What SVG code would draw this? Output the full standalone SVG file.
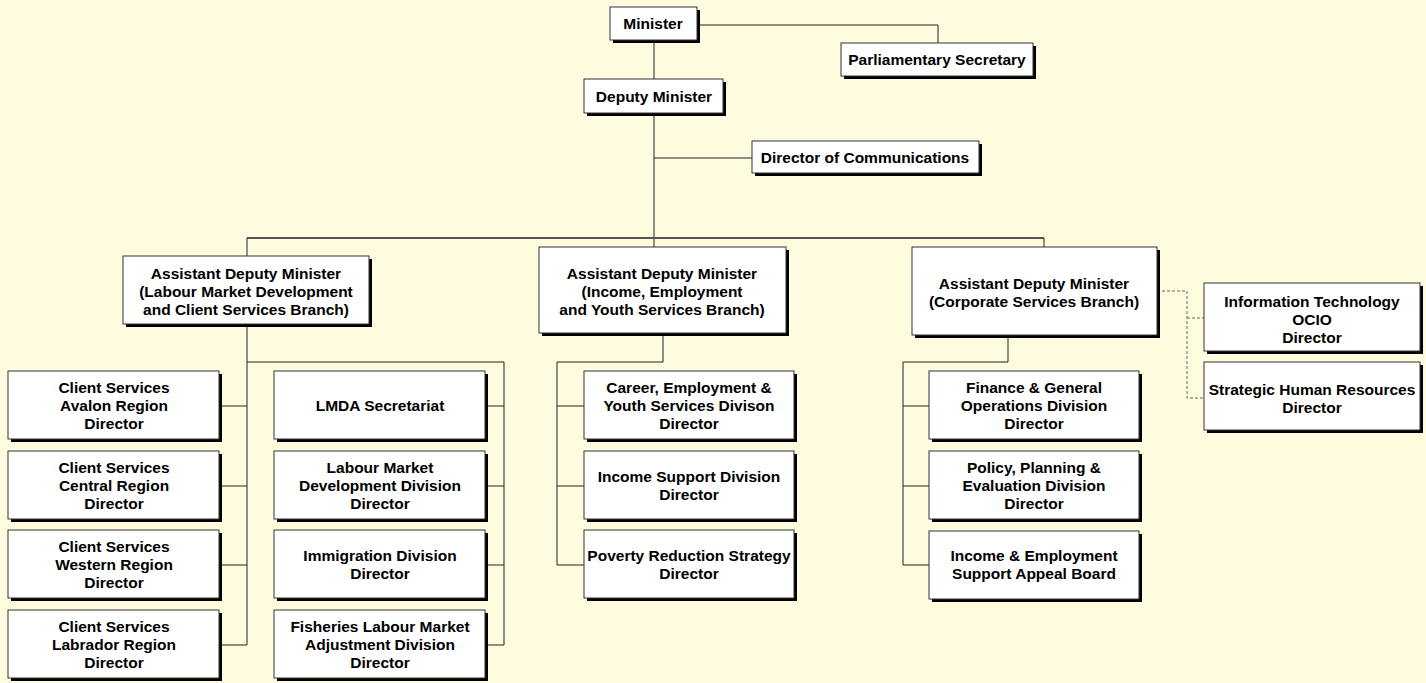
<svg xmlns="http://www.w3.org/2000/svg" width="1426" height="683" viewBox="0 0 1426 683">
<defs>
<style>
.sh{fill:#000}
.bx{fill:#fff;stroke:#333;stroke-width:1}
text{font-family:"Liberation Sans",Arial,sans-serif;font-weight:bold;font-size:15.5px;fill:#000;text-anchor:middle}
.ln{fill:none;stroke:#222;stroke-width:1}
.main{fill:none;stroke:#555;stroke-width:2}
.dash{fill:none;stroke:#666;stroke-width:1;stroke-dasharray:3,2}
</style>
</defs>
<rect width="1426" height="683" fill="#FFFBDF"/>
<g id="connectors">
<polyline class="ln" points="697,25 938,25 938,43"/>
<line class="ln" x1="654" y1="40" x2="654" y2="79"/>
<line class="ln" x1="654" y1="113" x2="654" y2="247"/>
<line class="ln" x1="654" y1="158" x2="752" y2="158"/>
<line class="main" x1="247" y1="238" x2="1044" y2="238"/>
<line class="ln" x1="247" y1="238" x2="247" y2="256"/>
<line class="ln" x1="1044" y1="238" x2="1044" y2="247"/>
<line class="ln" x1="247" y1="324" x2="247" y2="645"/>
<polyline class="ln" points="247,362 504,362 504,645"/>
<line class="ln" x1="219" y1="406" x2="247" y2="406"/>
<line class="ln" x1="219" y1="486" x2="247" y2="486"/>
<line class="ln" x1="219" y1="565" x2="247" y2="565"/>
<line class="ln" x1="219" y1="645" x2="247" y2="645"/>
<line class="ln" x1="485" y1="406" x2="504" y2="406"/>
<line class="ln" x1="485" y1="486" x2="504" y2="486"/>
<line class="ln" x1="485" y1="565" x2="504" y2="565"/>
<line class="ln" x1="485" y1="645" x2="504" y2="645"/>
<polyline class="ln" points="663,333 663,362 557,362 557,565 584,565"/>
<line class="ln" x1="557" y1="406" x2="584" y2="406"/>
<line class="ln" x1="557" y1="486" x2="584" y2="486"/>
<polyline class="ln" points="1008,335 1008,362 903,362 903,565 929,565"/>
<line class="ln" x1="903" y1="406" x2="929" y2="406"/>
<line class="ln" x1="903" y1="486" x2="929" y2="486"/>
<polyline class="dash" points="1157,291 1187,291 1187,398 1204,398"/>
<line class="dash" x1="1187" y1="318" x2="1204" y2="318"/>
</g>
<g id="minister"><rect class="sh" x="613" y="10" width="87" height="33"/><rect class="bx" x="610" y="7" width="87" height="33"/><text x="653" y="29">Minister</text></g>
<g id="parl-sec"><rect class="sh" x="844" y="46" width="192" height="33"/><rect class="bx" x="841" y="43" width="192" height="33"/><text x="937" y="65">Parliamentary Secretary</text></g>
<g id="deputy"><rect class="sh" x="587" y="82" width="139" height="34"/><rect class="bx" x="584" y="79" width="139" height="34"/><text x="654" y="102">Deputy Minister</text></g>
<g id="comms"><rect class="sh" x="755" y="144" width="227" height="32"/><rect class="bx" x="752" y="141" width="227" height="32"/><text x="865" y="163">Director of Communications</text></g>
<g id="adm-lmd"><rect class="sh" x="126" y="259" width="246" height="68"/><rect class="bx" x="123" y="256" width="246" height="68"/><text x="246" y="279">Assistant Deputy Minister</text><text x="246" y="297">(Labour Market Development</text><text x="246" y="315">and Client Services Branch)</text></g>
<g id="adm-ieys"><rect class="sh" x="542" y="250" width="247" height="86"/><rect class="bx" x="539" y="247" width="247" height="86"/><text x="662" y="279">Assistant Deputy Minister</text><text x="662" y="297">(Income, Employment</text><text x="662" y="315">and Youth Services Branch)</text></g>
<g id="adm-corp"><rect class="sh" x="915" y="250" width="245" height="88"/><rect class="bx" x="912" y="247" width="245" height="88"/><text x="1034" y="289">Assistant Deputy Minister</text><text x="1034" y="307">(Corporate Services Branch)</text></g>
<g id="it"><rect class="sh" x="1207" y="286" width="216" height="68"/><rect class="bx" x="1204" y="283" width="216" height="68"/><text x="1312" y="307">Information Technology</text><text x="1312" y="325">OCIO</text><text x="1312" y="343">Director</text></g>
<g id="shr"><rect class="sh" x="1207" y="365" width="216" height="68"/><rect class="bx" x="1204" y="362" width="216" height="68"/><text x="1312" y="395">Strategic Human Resources</text><text x="1312" y="413">Director</text></g>
<g id="cs-avalon"><rect class="sh" x="11" y="374" width="211" height="68"/><rect class="bx" x="8" y="371" width="211" height="68"/><text x="114" y="393">Client Services</text><text x="114" y="411">Avalon Region</text><text x="114" y="429">Director</text></g>
<g id="cs-central"><rect class="sh" x="11" y="454" width="211" height="68"/><rect class="bx" x="8" y="451" width="211" height="68"/><text x="114" y="473">Client Services</text><text x="114" y="491">Central Region</text><text x="114" y="509">Director</text></g>
<g id="cs-western"><rect class="sh" x="11" y="533" width="211" height="68"/><rect class="bx" x="8" y="530" width="211" height="68"/><text x="114" y="552">Client Services</text><text x="114" y="570">Western Region</text><text x="114" y="588">Director</text></g>
<g id="cs-labrador"><rect class="sh" x="11" y="613" width="211" height="68"/><rect class="bx" x="8" y="610" width="211" height="68"/><text x="114" y="632">Client Services</text><text x="114" y="650">Labrador Region</text><text x="114" y="668">Director</text></g>
<g id="lmda"><rect class="sh" x="277" y="374" width="211" height="68"/><rect class="bx" x="274" y="371" width="211" height="68"/><text x="380" y="411">LMDA Secretariat</text></g>
<g id="lmd-div"><rect class="sh" x="277" y="454" width="211" height="68"/><rect class="bx" x="274" y="451" width="211" height="68"/><text x="380" y="473">Labour Market</text><text x="380" y="491">Development Division</text><text x="380" y="509">Director</text></g>
<g id="immigration"><rect class="sh" x="277" y="533" width="211" height="68"/><rect class="bx" x="274" y="530" width="211" height="68"/><text x="380" y="561">Immigration Division</text><text x="380" y="579">Director</text></g>
<g id="fisheries"><rect class="sh" x="277" y="613" width="211" height="68"/><rect class="bx" x="274" y="610" width="211" height="68"/><text x="380" y="632">Fisheries Labour Market</text><text x="380" y="650">Adjustment Division</text><text x="380" y="668">Director</text></g>
<g id="career"><rect class="sh" x="587" y="374" width="210" height="68"/><rect class="bx" x="584" y="371" width="210" height="68"/><text x="689" y="393">Career, Employment &amp;</text><text x="689" y="411">Youth Services Divison</text><text x="689" y="429">Director</text></g>
<g id="income-support"><rect class="sh" x="587" y="454" width="210" height="68"/><rect class="bx" x="584" y="451" width="210" height="68"/><text x="689" y="482">Income Support Division</text><text x="689" y="500">Director</text></g>
<g id="poverty"><rect class="sh" x="587" y="533" width="210" height="68"/><rect class="bx" x="584" y="530" width="210" height="68"/><text x="689" y="561">Poverty Reduction Strategy</text><text x="689" y="579">Director</text></g>
<g id="finance"><rect class="sh" x="932" y="374" width="210" height="68"/><rect class="bx" x="929" y="371" width="210" height="68"/><text x="1034" y="393">Finance &amp; General</text><text x="1034" y="411">Operations Division</text><text x="1034" y="429">Director</text></g>
<g id="policy"><rect class="sh" x="932" y="454" width="210" height="68"/><rect class="bx" x="929" y="451" width="210" height="68"/><text x="1034" y="473">Policy, Planning &amp;</text><text x="1034" y="491">Evaluation Division</text><text x="1034" y="509">Director</text></g>
<g id="appeal"><rect class="sh" x="932" y="534" width="210" height="68"/><rect class="bx" x="929" y="531" width="210" height="68"/><text x="1034" y="561">Income &amp; Employment</text><text x="1034" y="579">Support Appeal Board</text></g>
</svg>
